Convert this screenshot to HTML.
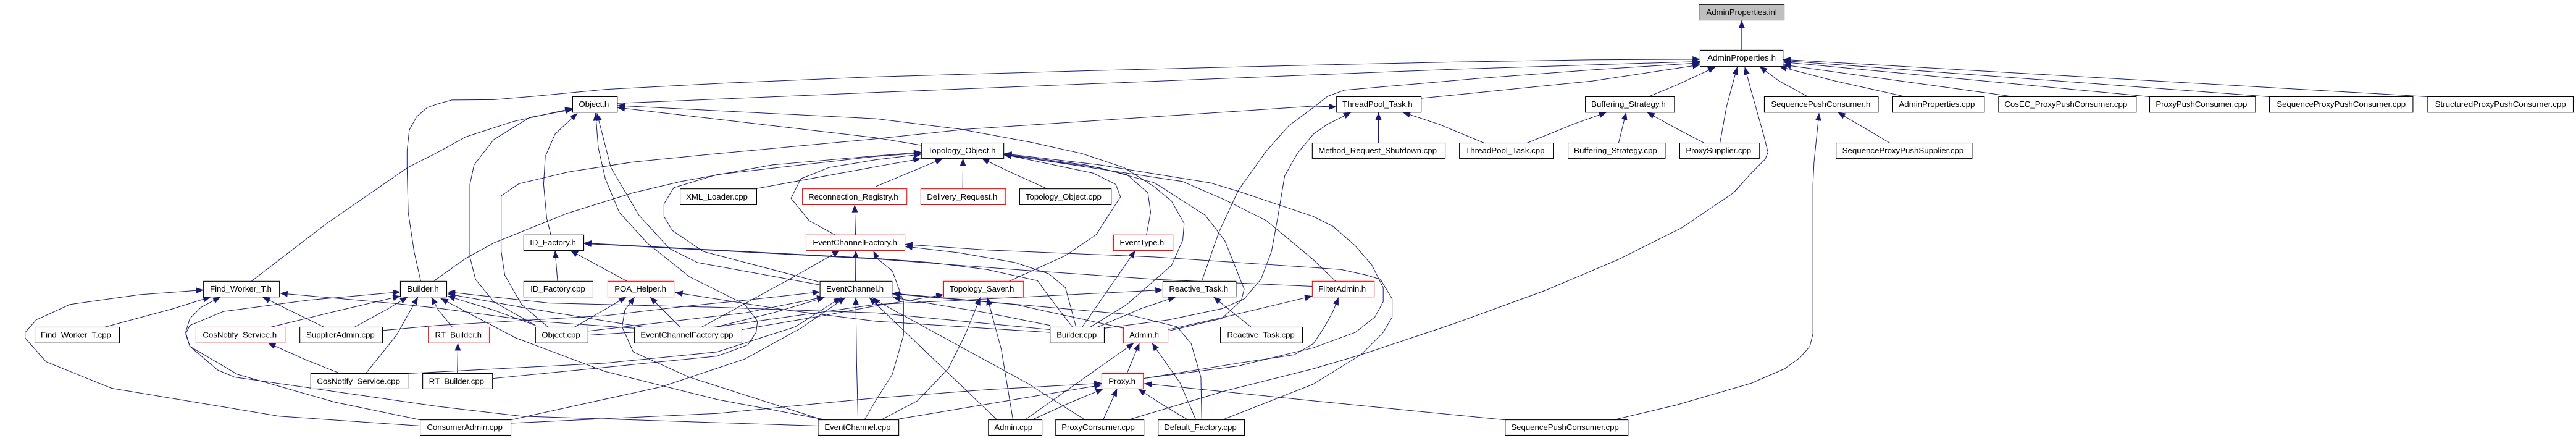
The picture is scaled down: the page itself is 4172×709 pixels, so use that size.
<!DOCTYPE html>
<html><head><meta charset="utf-8"><title>AdminProperties.inl include graph</title>
<style>
html,body{margin:0;padding:0;background:#fff;width:4172px;height:709px;overflow:hidden}
svg{display:block}
#e path{fill:none;stroke:#191970;stroke-width:2.2;stroke-linejoin:round;marker-end:url(#a)}
rect{fill:#fff;stroke:#000;stroke-width:2.4}
rect.r{stroke:#f00}
rect.g{fill:#bfbfbf}
text{font-family:"Liberation Sans",sans-serif;font-size:29.5px;fill:#000}
</style></head><body>
<svg xmlns="http://www.w3.org/2000/svg" width="4172" height="709" viewBox="0 0 9226 1568" preserveAspectRatio="none">
<defs><marker id="a" markerUnits="userSpaceOnUse" markerWidth="30" markerHeight="26" refX="27" refY="13" orient="auto" overflow="visible"><path d="M0 2L27 13L0 24z" fill="#191970"/></marker></defs>
<g id="e">
<path d="M6238 180L6238 73"/>
<path d="M1507 1007L1483 900L1462 760L1458 600L1458 540L1466 465L1492 418L1530 385L1568 372L1618 358L1768 357L1908 345L2168 320L2608 297L3136 275L3936 252L4704 233L5204 222L5704 214L6089 212"/>
<path d="M2211 370L3136 331L4704 268L5204 248L6089 220"/>
<path d="M5090 352L5704 290L6089 232"/>
<path d="M4304 1007L4366 830L4436 680L4536 540L4616 450L4704 385L4754 345L4814 323L5304 280L5704 250L6089 225"/>
<path d="M5904 346L6004 305L6144 240"/>
<path d="M6160 512L6184 380L6222 240"/>
<path d="M4051 1500L4386 1400L4704 1320L4874 1270L5204 1160L5534 1040L5794 930L6024 815L6209 690L6272 620L6322 570L6332 545L6317 485L6272 325L6249 240"/>
<path d="M6475 346L6372 290L6302 238"/>
<path d="M6824 346L6572 290L6372 238"/>
<path d="M7212 346L6387 232"/>
<path d="M7699 346L6386 222"/>
<path d="M8128 346L6386 217"/>
<path d="M8695 346L6386 213"/>
<path d="M6769 512L6582 402"/>
<path d="M5780 1503L6004 1450L6272 1372L6392 1320L6447 1280L6482 1240L6493 1195L6493 660L6497 580L6515 405"/>
<path d="M4937 512L4937 402"/>
<path d="M5316 512L5154 445L5024 402"/>
<path d="M5469 512L5634 445L5754 402"/>
<path d="M5797 512L5824 402"/>
<path d="M6104 512L6004 460L5899 402"/>
<path d="M3956 1175L4186 1145L4376 1105L4456 1070L4516 1000L4554 900L4576 780L4601 630L4646 550L4704 480L4754 445L4814 415L4839 402"/>
<path d="M1963 1171L1868 1090L1808 985L1795 900L1795 701L1858 658L2038 615L2268 580L2568 550L3136 497L3456 463L4704 380L4787 383"/>
<path d="M3300 520L3136 493L2211 385"/>
<path d="M3906 1170L4036 1090L4196 950L4236 860L4241 800L4196 720L4136 670L4026 600L3876 550L3696 510L3436 462L3136 425L2211 378"/>
<path d="M2937 1020L2498 940L2398 890L2288 770L2188 600L2138 405"/>
<path d="M1764 1355L2068 1325L2568 1275L2678 1235L2708 1190L2713 1150L2668 1090L2468 990L2318 870L2218 760L2168 640L2143 530L2133 405"/>
<path d="M900 1007L1170 800L1460 600L1568 545L1668 490L1838 435L2051 388"/>
<path d="M1918 1165L1768 1080L1703 1000L1683 920L1683 660L1698 590L1768 500L1898 420L2051 392"/>
<path d="M1973 841L1958 780L1947 660L1953 560L1988 480L2068 405"/>
<path d="M2937 1010L2518 900L2408 825L2378 775L2378 730L2413 672L2568 625L3136 560L3300 548"/>
<path d="M1555 1005L1668 925L1768 870L2028 765L2268 690L2438 650L2768 590L3136 558L3300 545"/>
<path d="M2710 675L3136 597L3298 568"/>
<path d="M2991 841L2898 790L2833 710L2868 640L2968 600L3136 572L3300 552"/>
<path d="M3136 668L3376 568"/>
<path d="M3448 676L3449 567"/>
<path d="M3751 676L3616 615L3516 567"/>
<path d="M4106 841L4121 760L4111 690L4036 625L3886 590L3596 552"/>
<path d="M3614 1007L3816 915L3926 840L4013 705L3996 660L3916 620L3596 553"/>
<path d="M4183 1185L4376 1140L4446 1075L4456 1035L4386 860L4316 770L4136 655L3936 600L3596 555"/>
<path d="M4784 1007L4704 930L4536 790L4386 715L4236 650L3596 553"/>
<path d="M4095 1355L4436 1310L4704 1245L4854 1190L4924 1135L4954 1080L4954 1030L4914 950L4854 880L4774 810L4704 775L4436 685L4336 655L3936 590L3596 550"/>
<path d="M4095 1355L4436 1300L4636 1270L4704 1230L4744 1170L4774 1115L4794 1065"/>
<path d="M3064 841L3061 733"/>
<path d="M3064 1007L3065 897"/>
<path d="M2513 1171L2818 1005L3008 897"/>
<path d="M4386 1500L4704 1375L4874 1270L4954 1190L4986 1135L4986 1070L4944 1000L4894 985L4804 965L4704 958L4136 920L3536 895L3241 875"/>
<path d="M3854 1171L3816 1030L3756 980L3636 940L3436 905L3241 882"/>
<path d="M3096 1503L3136 1435L3196 1340L3236 1200L3236 1080L3196 970L3141 925L3128 898"/>
<path d="M1997 1007L1988 897"/>
<path d="M2246 1007L2043 897"/>
<path d="M3841 1171L3756 1060L3716 1005L3536 965L3336 940L3136 925L2091 870"/>
<path d="M4700 1025L4136 1000L3636 965L3136 927L2091 872"/>
<path d="M970 1171L1200 1115L1434 1060"/>
<path d="M1270 1171L1390 1105L1460 1063"/>
<path d="M1310 1337L1420 1200L1497 1063"/>
<path d="M1620 1171L1570 1110L1545 1063"/>
<path d="M2930 1525L1868 1490L1568 1455L840 1350L780 1325L680 1240L665 1195L680 1165L800 1115L1100 1075L1434 1045"/>
<path d="M1918 1165L1768 1110L1603 1060"/>
<path d="M2303 1171L1868 1100L1603 1052"/>
<path d="M3761 1180L3136 1120L2568 1100L1968 1085L1603 1045"/>
<path d="M2958 1503L2568 1430L2168 1330L1848 1210L1578 1068"/>
<path d="M1505 1525L1000 1490L400 1390L165 1295L90 1210L90 1190L130 1145L250 1090L500 1055L729 1038"/>
<path d="M375 1171L620 1105L755 1063"/>
<path d="M1505 1503L1200 1440L850 1340L680 1240L665 1190L680 1140L720 1100L790 1063"/>
<path d="M1160 1171L940 1063"/>
<path d="M2272 1175L1918 1150L1568 1103L1400 1085L1003 1050"/>
<path d="M1218 1337L1100 1290L960 1228"/>
<path d="M1638 1337L1640 1228"/>
<path d="M2058 1171L2243 1063"/>
<path d="M2946 1503L2468 1350L2268 1260L2228 1170L2238 1110L2273 1063"/>
<path d="M2436 1171L2328 1063"/>
<path d="M3761 1190L3136 1150L2818 1110L2418 1047"/>
<path d="M1370 1183L1568 1165L2168 1130L2468 1095L2668 1075L2937 1045"/>
<path d="M2106 1185L2668 1120L2953 1063"/>
<path d="M2563 1171L2768 1120L2953 1065"/>
<path d="M1461 1337L2168 1300L2568 1260L2848 1170L2958 1100L3013 1065"/>
<path d="M1830 1503L2368 1385L2668 1285L2868 1175L3028 1065"/>
<path d="M3073 1503L3068 1300L3065 1065"/>
<path d="M3571 1503L3113 1065"/>
<path d="M3886 1503L3676 1370L3136 1075L3125 1065"/>
<path d="M3761 1165L3536 1120L3198 1065"/>
<path d="M4024 1175L3636 1090L3196 1052"/>
<path d="M4304 1503L4301 1350L4266 1230L4216 1170L4036 1125L3196 1050"/>
<path d="M3156 1503L3286 1435L3396 1320L3456 1200L3511 1065"/>
<path d="M3628 1503L3586 1250L3536 1065"/>
<path d="M2657 1180L2948 1130L3136 1095L3380 1055"/>
<path d="M2106 1200L2568 1170L3136 1090L3636 1065L4165 1038"/>
<path d="M3931 1171L4086 1105L4211 1063"/>
<path d="M4481 1171L4346 1063"/>
<path d="M3876 1171L4066 897"/>
<path d="M4036 1337L4081 1228"/>
<path d="M3671 1503L4061 1228"/>
<path d="M4283 1503L4226 1370L4126 1228"/>
<path d="M1830 1515L2568 1480L3136 1425L3536 1395L3946 1372"/>
<path d="M3219 1500L3636 1430L3946 1378"/>
<path d="M3696 1503L3836 1440L3951 1392"/>
<path d="M3951 1503L4001 1392"/>
<path d="M4254 1503L4166 1450L4076 1392"/>
<path d="M5389 1503L5004 1465L4704 1435L4098 1373"/>
<path d="M4183 1180L4386 1135L4700 1060"/>
</g>
<g>
<rect class="g" x="6085" y="16" width="305" height="56"/><text x="6111" y="53" textLength="253">AdminProperties.inl</text>
<rect x="6089" y="180" width="297" height="58"/><text x="6115" y="217" textLength="245">AdminProperties.h</text>
<rect x="2051" y="346" width="160" height="56"/><text x="2073" y="383" textLength="108">Object.h</text>
<rect x="4787" y="346" width="303" height="56"/><text x="4808" y="383" textLength="251">ThreadPool_Task.h</text>
<rect x="5678" y="346" width="319" height="56"/><text x="5699" y="383" textLength="267">Buffering_Strategy.h</text>
<rect x="6319" y="346" width="408" height="56"/><text x="6343" y="383" textLength="356">SequencePushConsumer.h</text>
<rect x="6779" y="346" width="328" height="56"/><text x="6801" y="383" textLength="272">AdminProperties.cpp</text>
<rect x="7158" y="346" width="493" height="56"/><text x="7179" y="383" textLength="440">CosEC_ProxyPushConsumer.cpp</text>
<rect x="7699" y="346" width="379" height="56"/><text x="7721" y="383" textLength="327">ProxyPushConsumer.cpp</text>
<rect x="8128" y="346" width="514" height="56"/><text x="8154" y="383" textLength="462">SequenceProxyPushConsumer.cpp</text>
<rect x="8695" y="346" width="521" height="56"/><text x="8721" y="383" textLength="469">StructuredProxyPushConsumer.cpp</text>
<rect x="3300" y="512" width="295" height="55"/><text x="3323" y="548" textLength="243">Topology_Object.h</text>
<rect x="4700" y="512" width="476" height="55"/><text x="4722" y="548" textLength="424">Method_Request_Shutdown.cpp</text>
<rect x="5227" y="512" width="336" height="55"/><text x="5248" y="548" textLength="284">ThreadPool_Task.cpp</text>
<rect x="5616" y="512" width="348" height="55"/><text x="5637" y="548" textLength="298">Buffering_Strategy.cpp</text>
<rect x="6016" y="512" width="286" height="55"/><text x="6038" y="548" textLength="234">ProxySupplier.cpp</text>
<rect x="6576" y="512" width="487" height="55"/><text x="6598" y="548" textLength="435">SequenceProxyPushSupplier.cpp</text>
<rect x="2436" y="676" width="274" height="57"/><text x="2457" y="714" textLength="221">XML_Loader.cpp</text>
<rect class="r" x="2874" y="676" width="374" height="57"/><text x="2895" y="714" textLength="322">Reconnection_Registry.h</text>
<rect class="r" x="3298" y="676" width="304" height="57"/><text x="3320" y="714" textLength="252">Delivery_Request.h</text>
<rect x="3652" y="676" width="328" height="57"/><text x="3673" y="714" textLength="272">Topology_Object.cpp</text>
<rect x="1876" y="841" width="215" height="56"/><text x="1898" y="878" textLength="165">ID_Factory.h</text>
<rect class="r" x="2887" y="841" width="354" height="56"/><text x="2911" y="878" textLength="302">EventChannelFactory.h</text>
<rect class="r" x="3988" y="841" width="213" height="56"/><text x="4010" y="878" textLength="159">EventType.h</text>
<rect x="729" y="1007" width="272" height="56"/><text x="752" y="1044" textLength="221">Find_Worker_T.h</text>
<rect x="1434" y="1007" width="166" height="56"/><text x="1458" y="1044" textLength="114">Builder.h</text>
<rect x="1876" y="1007" width="248" height="56"/><text x="1900" y="1044" textLength="196">ID_Factory.cpp</text>
<rect class="r" x="2177" y="1007" width="237" height="56"/><text x="2201" y="1044" textLength="185">POA_Helper.h</text>
<rect x="2937" y="1007" width="258" height="56"/><text x="2959" y="1044" textLength="206">EventChannel.h</text>
<rect class="r" x="3380" y="1007" width="286" height="56"/><text x="3401" y="1044" textLength="231">Topology_Saver.h</text>
<rect x="4165" y="1007" width="262" height="56"/><text x="4187" y="1044" textLength="212">Reactive_Task.h</text>
<rect class="r" x="4700" y="1007" width="222" height="56"/><text x="4722" y="1044" textLength="170">FilterAdmin.h</text>
<rect x="125" y="1171" width="303" height="57"/><text x="146" y="1209" textLength="252">Find_Worker_T.cpp</text>
<rect class="r" x="702" y="1171" width="319" height="57"/><text x="726" y="1209" textLength="265">CosNotify_Service.h</text>
<rect x="1074" y="1171" width="296" height="57"/><text x="1097" y="1209" textLength="245">SupplierAdmin.cpp</text>
<rect class="r" x="1534" y="1171" width="219" height="57"/><text x="1558" y="1209" textLength="167">RT_Builder.h</text>
<rect x="1918" y="1171" width="188" height="57"/><text x="1940" y="1209" textLength="138">Object.cpp</text>
<rect x="2272" y="1171" width="385" height="57"/><text x="2294" y="1209" textLength="332">EventChannelFactory.cpp</text>
<rect x="3761" y="1171" width="194" height="57"/><text x="3784" y="1209" textLength="144">Builder.cpp</text>
<rect class="r" x="4024" y="1171" width="159" height="57"/><text x="4045" y="1209" textLength="106">Admin.h</text>
<rect x="4371" y="1171" width="294" height="57"/><text x="4395" y="1209" textLength="242">Reactive_Task.cpp</text>
<rect x="1113" y="1337" width="348" height="55"/><text x="1135" y="1374" textLength="298">CosNotify_Service.cpp</text>
<rect x="1514" y="1337" width="250" height="55"/><text x="1536" y="1374" textLength="198">RT_Builder.cpp</text>
<rect class="r" x="3946" y="1337" width="149" height="55"/><text x="3970" y="1374" textLength="97">Proxy.h</text>
<rect x="1505" y="1503" width="325" height="55"/><text x="1529" y="1539" textLength="271">ConsumerAdmin.cpp</text>
<rect x="2930" y="1503" width="289" height="55"/><text x="2953" y="1539" textLength="237">EventChannel.cpp</text>
<rect x="3540" y="1503" width="192" height="55"/><text x="3561" y="1539" textLength="137">Admin.cpp</text>
<rect x="3781" y="1503" width="316" height="55"/><text x="3802" y="1539" textLength="262">ProxyConsumer.cpp</text>
<rect x="4148" y="1503" width="309" height="55"/><text x="4169" y="1539" textLength="260">Default_Factory.cpp</text>
<rect x="5391" y="1503" width="440" height="55"/><text x="5412" y="1539" textLength="386">SequencePushConsumer.cpp</text>
</g>
</svg>
</body></html>
